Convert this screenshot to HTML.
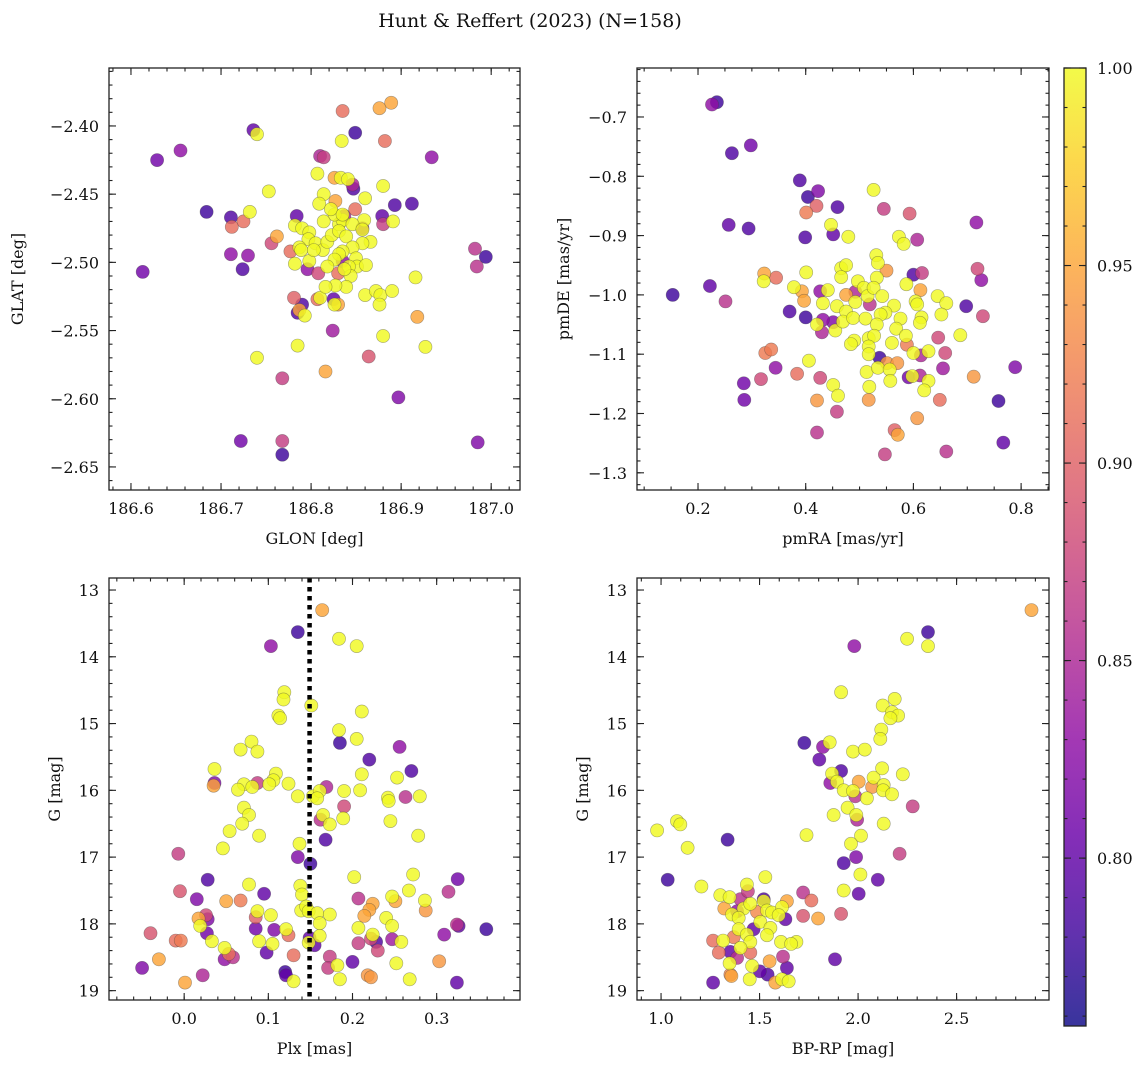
<!DOCTYPE html>
<html><head><meta charset="utf-8"><title>Hunt &amp; Reffert (2023)</title>
<style>
html,body{margin:0;padding:0;background:#fff;}
svg{display:block;font-family:"DejaVu Serif","Liberation Serif",serif;}
</style></head>
<body>
<svg id="fig" width="1148" height="1067" viewBox="0 0 1148 1067">
<text x="530" y="27" text-anchor="middle" font-size="19" fill="#111">Hunt &amp; Reffert (2023) (N=158)</text>
</svg>
<script>
// ---------- data ----------
const lon1=[186.835,186.876,186.889,186.849,186.882,186.834,186.736,186.740,186.655,186.629,186.934,186.810,186.814,186.807,186.826,186.833,186.841,186.846,186.847,186.880,186.753,186.860,186.814,186.809,186.827,186.893,186.912,186.849,186.684,186.732,186.784,186.711,186.725,186.712,186.879,186.880,186.891,186.859,186.762,186.756,186.711,186.730,186.724,186.613,186.982,186.994,186.984,186.777,186.796,186.808,186.830,186.916,186.781,186.790,186.785,186.787,186.793,186.807,186.810,186.825,186.830,186.826,186.860,186.872,186.877,186.890,186.876,186.918,186.824,186.880,186.927,186.785,186.740,186.864,186.816,186.768,186.897,186.722,186.768,186.768,186.985,186.837,186.857,186.835,
186.782,186.790,186.798,186.797,186.805,186.813,186.818,186.823,186.831,186.835,186.826,186.822,186.831,186.839,186.846,186.857,186.866,186.857,186.846,186.835,186.831,186.826,186.818,186.850,186.851,186.861,186.842,186.844,186.839,186.827,186.816,186.787,186.782,186.798,186.789,186.803,186.814,186.837,186.835];
const lat1=[-2.389,-2.387,-2.383,-2.405,-2.411,-2.411,-2.403,-2.406,-2.418,-2.425,-2.423,-2.422,-2.423,-2.435,-2.438,-2.438,-2.439,-2.443,-2.446,-2.444,-2.448,-2.453,-2.450,-2.457,-2.455,-2.458,-2.457,-2.461,-2.463,-2.463,-2.466,-2.467,-2.470,-2.474,-2.466,-2.472,-2.470,-2.469,-2.481,-2.486,-2.494,-2.495,-2.505,-2.507,-2.490,-2.496,-2.503,-2.492,-2.505,-2.508,-2.508,-2.511,-2.526,-2.531,-2.537,-2.535,-2.539,-2.527,-2.526,-2.527,-2.531,-2.531,-2.524,-2.521,-2.524,-2.521,-2.531,-2.540,-2.550,-2.554,-2.562,-2.561,-2.570,-2.569,-2.580,-2.585,-2.599,-2.631,-2.631,-2.641,-2.632,-2.466,-2.475,-2.499,
-2.473,-2.475,-2.478,-2.483,-2.486,-2.491,-2.485,-2.480,-2.472,-2.469,-2.465,-2.461,-2.477,-2.481,-2.472,-2.476,-2.485,-2.486,-2.489,-2.492,-2.494,-2.498,-2.503,-2.497,-2.503,-2.502,-2.503,-2.510,-2.518,-2.517,-2.518,-2.489,-2.501,-2.499,-2.491,-2.491,-2.470,-2.505,-2.465];
const prob1=[.91,.95,.95,.78,.91,1,.80,1,.83,.81,.83,.85,.87,1,.95,1,1,.85,.79,1,1,1,1,1,.95,.79,.79,.91,.78,1,.80,.79,.91,.91,.80,.87,1,1,.95,.88,.83,.83,.79,.81,.86,.78,.86,.91,.83,.88,.91,1,.90,.79,.79,.95,1,.91,1,.80,.95,1,1,1,1,1,1,.95,.84,1,1,1,1,.89,.95,.87,.82,.81,.87,.78,.82,.85,.83,.83,
1,1,1,1,1,1,1,1,1,1,1,1,1,1,1,1,1,1,1,1,1,1,1,1,1,1,1,1,1,1,1,1,1,1,1,1,1,1,1];

const pmra2=[.226,.235,.263,.298,.389,.423,.404,.420,.401,.459,.526,.545,.593,.717,.257,.294,.399,.451,.447,.479,.573,.582,.607,.531,.534,.550,.466,.475,.466,.401,.323,.322,.345,.497,.532,.587,.600,.616,.719,.726,.153,.222,.251,.378,.393,.397,.427,.441,.475,.492,.508,.515,.526,.542,.432,.458,.492,.519,.475,.564,.548,.539,.613,.604,.607,.645,.661,.652,.698,.729,.370,.400,.421,.432,.451,.430,.455,.469,.488,.511,.532,.576,.615,.612,.568,.490,.484,.517,.527,.560,.586,.588,.646,.687,.325,.336,.344,.406,.517,.517,.537,.551,.570,.600,.614,.628,.659,.655,.789,.285,.317,.384,.427,.513,.534,.556,.557,.591,.612,.598,.628,.620,.451,.460,.518,.286,.421,.517,.649,.758,.712,.458,.607,.421,.565,.571,.767,.547,.661];
const pmde2=[-.679,-.675,-.761,-.748,-.807,-.825,-.835,-.850,-.861,-.852,-.823,-.855,-.863,-.878,-.882,-.888,-.903,-.898,-.882,-.902,-.902,-.914,-.907,-.933,-.946,-.959,-.955,-.950,-.970,-.962,-.964,-.977,-.971,-.977,-.971,-.982,-.966,-.963,-.956,-.975,-1.0,-.985,-1.011,-.987,-.994,-1.010,-.994,-.992,-1.0,-.995,-.988,-1.002,-.988,-1.002,-1.014,-1.019,-1.012,-1.016,-1.028,-1.018,-1.030,-1.033,-.992,-1.011,-1.016,-1.002,-1.014,-1.033,-1.019,-1.036,-1.028,-1.038,-1.050,-1.042,-1.046,-1.063,-1.060,-1.045,-1.039,-1.040,-1.050,-1.040,-1.038,-1.047,-1.057,-1.077,-1.083,-1.073,-1.069,-1.081,-1.069,-1.084,-1.072,-1.068,-1.098,-1.092,-1.123,-1.111,-1.087,-1.100,-1.106,-1.115,-1.115,-1.098,-1.102,-1.095,-1.098,-1.124,-1.122,-1.149,-1.142,-1.133,-1.140,-1.130,-1.123,-1.126,-1.145,-1.139,-1.136,-1.137,-1.145,-1.161,-1.152,-1.170,-1.155,-1.177,-1.178,-1.177,-1.177,-1.179,-1.138,-1.197,-1.208,-1.232,-1.228,-1.236,-1.249,-1.269,-1.264];
const prob2=[.83,.78,.79,.81,.79,.82,.78,.90,.92,.79,1,.87,.89,.83,.80,.79,.79,.80,1,1,1,1,.85,1,1,.94,1,1,1,1,.95,1,.91,1,1,1,.79,.87,.88,.83,.78,.80,.86,1,.95,.95,.83,1,.95,.85,1,1,1,1,1,1,1,.86,1,1,1,1,.95,1,1,1,1,1,.79,.88,.79,.78,1,.83,.82,.85,1,1,1,1,1,1,1,1,1,1,1,1,1,1,1,.92,.88,1,.92,.92,.83,1,1,1,.78,.94,.94,1,.85,1,.88,.84,.82,.81,.88,.91,.88,1,1,1,1,.81,.85,1,1,1,1,1,1,.81,.94,.94,.91,.78,.94,.87,.94,.86,.90,.95,.80,.87,.86];

const plx3=[.164,.135,.103,.184,.205,.119,.118,.112,.114,.151,.211,.184,.205,.185,.256,.080,.067,.087,.220,.270,.036,.036,.035,.211,.253,.109,.106,.124,.087,.071,.064,.081,.101,.135,.153,.161,.169,.190,.209,.158,.263,.280,.242,.243,.190,.071,.077,.165,.162,.173,.189,.245,.069,.054,.089,.278,.168,.046,.137,-.007,.135,.150,.202,.272,.028,.077,.138,.140,.267,.325,.314,-.005,.015,.050,.067,.095,.207,.224,.247,.251,.286,.287,.139,.145,.148,.158,.173,.220,.214,.240,.087,.085,.103,.026,.028,.017,.019,.161,.247,.207,.326,.324,.359,.309,-.040,-.010,-.004,.027,.033,.085,.107,.121,.124,.089,.105,.149,.161,.148,.155,.222,.224,.228,.230,.247,.258,.207,.048,.053,.048,.058,.098,.130,.173,.171,.182,.200,.252,.303,-.050,-.030,.001,.022,.120,.121,.130,.185,.218,.222,.268,.324];
const gmag3=[13.30,13.63,13.84,13.73,13.84,14.53,14.64,14.88,14.92,14.73,14.82,15.10,15.23,15.29,15.35,15.27,15.39,15.42,15.54,15.71,15.68,15.89,15.93,15.76,15.81,15.75,15.85,15.90,15.89,15.91,15.99,15.95,15.91,16.09,16.09,16.01,15.95,16.01,16.00,16.12,16.10,16.09,16.11,16.16,16.24,16.26,16.37,16.37,16.44,16.51,16.42,16.46,16.50,16.61,16.68,16.68,16.74,16.87,16.80,16.95,17.00,17.10,17.30,17.26,17.34,17.41,17.43,17.56,17.50,17.33,17.52,17.51,17.63,17.66,17.65,17.55,17.62,17.70,17.59,17.66,17.65,17.80,17.80,17.74,17.81,17.84,17.86,17.79,17.88,17.91,17.81,17.90,17.87,17.87,17.93,17.92,18.03,17.99,18.03,18.06,18.03,18.01,18.08,18.16,18.14,18.25,18.25,18.14,18.26,18.07,18.09,18.08,18.17,18.26,18.30,18.21,18.18,18.28,18.32,18.22,18.16,18.27,18.40,18.23,18.27,18.29,18.36,18.45,18.53,18.50,18.43,18.47,18.49,18.66,18.62,18.57,18.59,18.56,18.66,18.53,18.88,18.77,18.72,18.77,18.86,18.83,18.77,18.80,18.83,18.88];
const prob3=[.95,.78,.83,1,1,1,1,1,1,1,1,1,1,.78,.83,1,1,1,.79,.79,1,.82,.95,1,1,1,1,1,.87,1,1,1,1,1,1,1,.85,1,1,1,.86,1,1,1,.88,1,1,1,.86,1,1,1,1,1,1,1,.79,1,1,.87,.82,.78,1,1,.79,1,1,1,1,.81,.86,.89,.82,.95,.92,.80,.86,.95,1,.95,1,.94,1,1,1,1,1,.95,.95,1,1,.90,1,.88,.82,.95,1,1,1,1,.80,.86,.78,.83,.89,.91,.92,.81,1,.81,.82,1,.91,1,1,.80,1,1,.80,.88,1,.79,.88,.84,1,.87,1,.91,.83,.86,.80,.91,.87,.87,1,.80,1,.94,.82,.95,.95,.85,.78,.80,1,1,.94,.94,1,.80];
const plxMean=0.149;

const bprp4=[2.880,2.355,2.355,2.249,1.981,1.914,2.186,2.125,2.172,2.203,2.164,2.118,2.113,1.727,1.822,1.856,1.974,2.034,1.803,1.914,1.868,1.859,1.893,1.927,1.974,2.003,1.986,2.045,2.079,2.122,2.071,2.130,2.127,2.172,2.227,2.277,1.947,1.876,1.991,1.995,2.130,1.081,1.098,.980,1.135,1.338,1.738,2.015,1.964,1.990,1.927,2.211,2.012,2.100,1.034,1.205,1.927,2.003,1.529,1.721,1.763,1.721,1.797,1.914,1.883,
1.301,1.348,1.436,1.441,1.403,1.521,1.521,1.639,1.321,1.419,1.453,1.487,1.538,1.563,1.614,1.597,1.631,1.360,1.394,1.386,1.504,1.470,1.394,1.555,1.538,1.436,1.264,1.315,1.369,1.453,1.403,1.293,1.352,1.453,1.386,1.348,1.462,1.551,1.619,1.639,1.609,1.687,1.660,1.501,1.541,1.450,1.357,1.264,1.580,1.614,1.648,1.352];
const gmag4=[13.30,13.63,13.84,13.73,13.84,14.53,14.63,14.73,14.83,14.88,14.92,15.09,15.23,15.29,15.35,15.28,15.42,15.39,15.54,15.71,15.75,15.89,15.87,16.00,16.01,15.87,16.09,16.12,15.81,15.67,15.95,15.92,16.00,16.06,15.76,16.24,16.26,16.37,16.37,16.44,16.50,16.46,16.51,16.60,16.86,16.74,16.67,16.68,16.80,17.00,17.09,16.95,17.26,17.34,17.34,17.44,17.50,17.55,17.30,17.53,17.65,17.88,17.92,17.85,18.53,
17.57,17.60,17.41,17.51,17.63,17.63,17.66,17.66,17.77,17.77,17.70,17.82,17.80,17.83,17.75,17.87,17.93,17.86,17.91,17.81,17.97,18.08,18.08,18.06,18.17,18.16,18.25,18.25,18.20,18.27,18.36,18.43,18.42,18.43,18.51,18.59,18.63,18.56,18.49,18.66,18.27,18.27,18.30,18.71,18.76,18.83,18.78,18.88,18.88,18.83,18.86,18.76];
const prob4=[.95,.78,1,1,.83,1,1,1,1,1,1,1,1,.78,.83,1,1,1,.80,.79,1,.83,1,1,1,.95,.86,1,1,1,.94,1,1,1,1,.87,1,1,1,.85,1,1,1,1,1,.78,1,1,1,.82,.79,.87,1,.80,.78,1,1,.80,1,.86,.91,.89,.95,.89,.80,
1,1,1,.87,.86,.79,1,.95,.95,1,1,.93,1,1,1,1,.80,1,1,.83,1,.80,1,1,1,1,.91,1,.92,1,1,.91,.80,.91,.86,1,1,.95,.86,.80,1,1,1,.80,.79,1,.95,.80,.95,1,1,.93];

const cbTicks=[0.80,0.85,0.90,0.95,1.00];

// ---------- helpers ----------
const NS="http://www.w3.org/2000/svg";
const svg=document.getElementById('fig');
function mk(tag,attrs,parent){const e=document.createElementNS(NS,tag);for(const k in attrs)e.setAttribute(k,attrs[k]);(parent||svg).appendChild(e);return e;}
const VMIN=0.7575,VMAX=1.0;
const PL=[[13,8,135],[65,4,157],[106,0,168],[143,13,164],[177,42,144],[204,71,120],[225,100,98],[242,132,75],[252,166,54],[252,206,37],[240,249,33]];
function plasma(t){t=Math.max(0,Math.min(1,t));const f=t*10,i=Math.min(9,Math.floor(f)),r=f-i;const a=PL[i],b=PL[i+1];return 'rgb('+a.map((v,k)=>Math.round(v+(b[k]-v)*r)).join(',')+')';}
const fmtMinus=s=>s.replace('-','\u2212');

function panel(cfg){
  const {name,x0,x1,y0,y1,xd,yd}=cfg;
  const g=mk('g',{});
  
  
  const X=v=>x0+(v-xd[0])/(xd[1]-xd[0])*(x1-x0);
  const Y=v=>y0+(v-yd[0])/(yd[1]-yd[0])*(y1-y0);
  cfg.X=X;cfg.Y=Y;cfg.g=g;
  const clipId='clip-'+name;
  const cp=mk('clipPath',{id:clipId},g);mk('rect',{x:x0,y:y0,width:x1-x0,height:y1-y0},cp);
  const pts=mk('g',{'clip-path':'url(#'+clipId+')'},g);
  
  
  cfg.pts=pts;
  return cfg;
}
function drawPoints(cfg,xs,ys,ps){
  const n=Math.min(xs.length,ys.length,ps.length);
  const idx=[...Array(n).keys()].sort((a,b)=>ps[a]-ps[b]);
  idx.forEach(i=>{
    const c=mk('circle',{cx:cfg.X(xs[i]).toFixed(1),cy:cfg.Y(ys[i]).toFixed(1),r:6.6,fill:plasma((ps[i]-VMIN)/(VMAX-VMIN)),'fill-opacity':0.82,stroke:'rgba(60,60,60,0.45)','stroke-width':0.6},cfg.pts);
    
    
  });
}
function ticks(lo,hi,step){const out=[];const s=Math.ceil(lo/step-1e-6);for(let k=s;k*step<=hi+1e-9;k++)out.push(+(k*step).toFixed(6));return out;}
function axes(cfg){
  const {x0,x1,y0,y1,xd,yd,g,X,Y}=cfg;
  const lo=(a)=>Math.min(a[0],a[1]),hi=(a)=>Math.max(a[0],a[1]);
  const tg=mk('g',{stroke:'#222','stroke-width':1.1},g);
  ticks(lo(xd),hi(xd),cfg.xminor).forEach(v=>{const x=X(v);mk('line',{x1:x,x2:x,y1:y1,y2:y1-3.5},tg);mk('line',{x1:x,x2:x,y1:y0,y2:y0+3.5},tg);});
  ticks(lo(yd),hi(yd),cfg.yminor).forEach(v=>{const y=Y(v);mk('line',{x1:x0,x2:x0+3.5,y1:y,y2:y},tg);mk('line',{x1:x1,x2:x1-3.5,y1:y,y2:y},tg);});
  ticks(lo(xd),hi(xd),cfg.xmajor).forEach(v=>{const x=X(v);mk('line',{x1:x,x2:x,y1:y1,y2:y1-7},tg);mk('line',{x1:x,x2:x,y1:y0,y2:y0+7},tg);
    const t=mk('text',{x:x,y:y1+24,'text-anchor':'middle','font-size':16,fill:'#111'},g);t.textContent=fmtMinus(v.toFixed(cfg.xdec));
    });
  ticks(lo(yd),hi(yd),cfg.ymajor).forEach(v=>{const y=Y(v);mk('line',{x1:x0,x2:x0+7,y1:y,y2:y},tg);mk('line',{x1:x1,x2:x1-7,y1:y,y2:y},tg);
    const t=mk('text',{x:x0-10,y:y+6,'text-anchor':'end','font-size':16,fill:'#111'},g);t.textContent=fmtMinus(v.toFixed(cfg.ydec));
    });
  const fr=mk('rect',{x:x0,y:y0,width:x1-x0,height:y1-y0,fill:'none',stroke:'#222','stroke-width':1.3},g);
  
  const xl=mk('text',{x:(x0+x1)/2,y:y1+54,'text-anchor':'middle','font-size':16,fill:'#111'},g);xl.textContent=cfg.xlab;
  
  const yx=cfg.ylx,yy=(y0+y1)/2;
  const yl=mk('text',{x:yx,y:yy,'text-anchor':'middle','font-size':16,fill:'#111',transform:'rotate(-90 '+yx+' '+yy+')'},g);yl.textContent=cfg.ylab;
  
}

// ---------- panels ----------
const p1=panel({name:'glon-glat-panel',x0:109,x1:520,y0:68,y1:490,xd:[186.5756,187.032],yd:[-2.3575,-2.6669],xmajor:0.1,xminor:0.02,ymajor:0.05,yminor:0.01,xdec:1,ydec:2,xlab:'GLON [deg]',ylab:'GLAT [deg]',ylx:23});
drawPoints(p1,lon1,lat1,prob1);axes(p1);

const p2=panel({name:'proper-motion-panel',x0:637,x1:1049,y0:68,y1:490,xd:[0.0867,0.8518],yd:[-0.6174,-1.329],xmajor:0.2,xminor:0.05,ymajor:0.1,yminor:0.02,xdec:1,ydec:1,xlab:'pmRA [mas/yr]',ylab:'pmDE [mas/yr]',ylx:569});
drawPoints(p2,pmra2,pmde2,prob2);axes(p2);

const p3=panel({name:'parallax-magnitude-panel',x0:109,x1:520,y0:578,y1:1000,xd:[-0.0893,0.399],yd:[12.82,19.14],xmajor:0.1,xminor:0.02,ymajor:1,yminor:0.2,xdec:1,ydec:0,xlab:'Plx [mas]',ylab:'G [mag]',ylx:60});
drawPoints(p3,plx3,gmag3,prob3);
const ml=mk('line',{x1:p3.X(plxMean),x2:p3.X(plxMean),y1:578,y2:1000,stroke:'#000','stroke-width':4.5,'stroke-dasharray':'4.5 4.5'},p3.g);

axes(p3);

const p4=panel({name:'color-magnitude-panel',x0:637,x1:1049,y0:578,y1:1000,xd:[0.878,2.969],yd:[12.82,19.14],xmajor:0.5,xminor:0.1,ymajor:1,yminor:0.2,xdec:1,ydec:0,xlab:'BP-RP [mag]',ylab:'G [mag]',ylx:588});
drawPoints(p4,bprp4,gmag4,prob4);axes(p4);

// ---------- colorbar ----------
(function(){
  const cx0=1064,cx1=1086,cy0=68,cy1=1026;
  const g=mk('g',{});
  
  
  const defs=mk('defs',{},g);
  const lg=mk('linearGradient',{id:'plasmaGrad',x1:0,y1:1,x2:0,y2:0},defs);
  for(let i=0;i<=20;i++){mk('stop',{offset:(i/20),'stop-color':plasma(i/20)},lg);}
  mk('rect',{x:cx0,y:cy0,width:cx1-cx0,height:cy1-cy0,fill:'url(#plasmaGrad)','fill-opacity':0.82},g);
  const Y=v=>cy1-(v-VMIN)/(VMAX-VMIN)*(cy1-cy0);
  ticks(VMIN,VMAX,0.01).forEach(v=>{const y=Y(v);mk('line',{x1:cx1,x2:cx1-3.5,y1:y,y2:y,stroke:'#222','stroke-width':1.1},g);mk('line',{x1:cx0,x2:cx0+3.5,y1:y,y2:y,stroke:'#222','stroke-width':1.1},g);});
  cbTicks.forEach(v=>{const y=Y(v);mk('line',{x1:cx1,x2:cx1-7,y1:y,y2:y,stroke:'#222','stroke-width':1.1},g);mk('line',{x1:cx0,x2:cx0+7,y1:y,y2:y,stroke:'#222','stroke-width':1.1},g);
    const t=mk('text',{x:cx1+11,y:y+6,'font-size':16,fill:'#111'},g);t.textContent=v.toFixed(2);
    });
  mk('rect',{x:cx0,y:cy0,width:cx1-cx0,height:cy1-cy0,fill:'none',stroke:'#222','stroke-width':1.3},g);
})();
</script>
</body></html>
